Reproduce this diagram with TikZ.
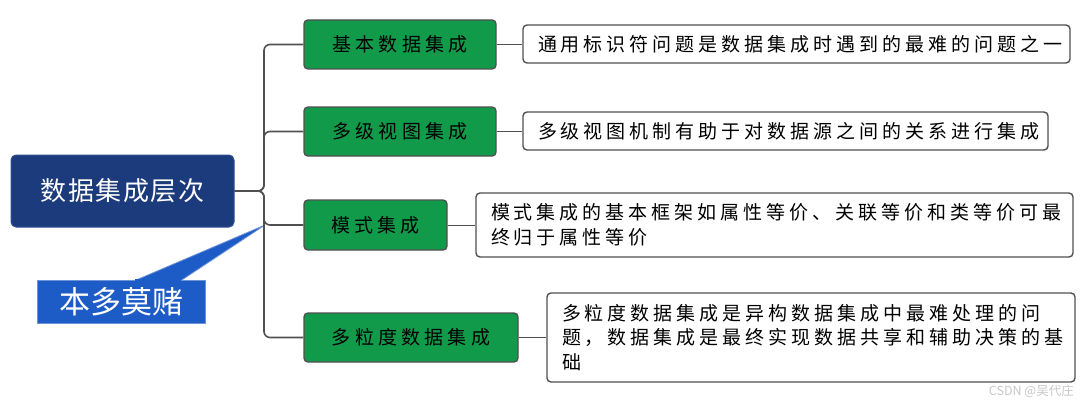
\documentclass[tikz,border=0pt]{standalone}
\usepackage{fontspec}
\newfontfamily\cjk{Noto Sans CJK SC}
\newfontfamily\cjkg[LetterSpace=22]{Noto Sans CJK SC}
\newfontfamily\cjkw[LetterSpace=21]{Noto Sans CJK SC}
\newfontfamily\cjkr[LetterSpace=6]{Noto Sans CJK SC}
\definecolor{rootblue}{HTML}{1C3B7C}
\definecolor{rootedge}{HTML}{2E4F93}
\definecolor{callblue}{HTML}{1D5BC6}
\definecolor{calledge}{HTML}{6D94D6}
\definecolor{leafgreen}{HTML}{119A4A}
\definecolor{edgegray}{HTML}{505050}
\tikzset{
  rootbox/.style={draw=rootedge, line width=1pt, fill=rootblue, rounded corners=5pt,
    text=white, font=\cjkr\fontsize{26}{30}\selectfont, inner sep=0pt},
  callbox/.style={draw=calledge, line width=1pt, fill=callblue,
    text=white, font=\cjk\fontsize{31}{34}\selectfont, inner sep=0pt},
  greenbox/.style={draw=edgegray, line width=1.4pt, fill=leafgreen, rounded corners=4pt,
    text=black, font=\cjkg\fontsize{19}{22}\selectfont, inner sep=0pt, minimum height=49pt},
  whitebox/.style={draw=edgegray, line width=1.4pt, fill=white, rounded corners=4pt,
    text=black, font=\cjkw\fontsize{19}{24.5}\selectfont, inner xsep=15pt, inner ysep=0pt,
    align=left, anchor=center},
  trunk/.style={draw=edgegray, line width=1.6pt, rounded corners=6pt},
  twig/.style={draw=edgegray, line width=1pt},
}
\begin{document}
\begin{tikzpicture}[x=1pt,y=-1pt]
\useasboundingbox (0,0) rectangle (1082,404);
% root and callout
\node[rootbox, minimum width=223pt, minimum height=72pt] (root) at (122.5,191) {数据集成层次};
\node[callbox, minimum width=168pt, minimum height=43pt] (call) at (121,301.5) {本多莫赌};
\coordinate (tip) at (265,225);
\coordinate (bl) at (135,280.5);
\coordinate (br) at (181,280.5);
\fill[callblue] (bl) -- (tip) -- (br) -- cycle;
\draw[calledge, line width=0.8pt] (bl) -- (tip) -- (br);
\fill[callblue] ([yshift=-0.3pt]bl) rectangle ([yshift=2pt]br);
% green nodes
\node[greenbox, minimum width=192pt] (g1) at (400,44.5) {基本数据集成};
\node[greenbox, minimum width=192pt] (g2) at (400,131.5) {多级视图集成};
\node[greenbox, minimum width=143pt, minimum height=50pt] (g3) at (375.5,225) {模式集成};
\node[greenbox, minimum width=214pt] (g4) at (411,337.5) {多粒度数据集成};
% white nodes
\node[whitebox, text width=517pt, minimum height=38pt] (w1) at (796.5,44) {通用标识符问题是数据集成时遇到的最难的问题之一};
\node[whitebox, text width=495pt, minimum height=38pt] (w2) at (785.5,131) {多级视图机制有助于对数据源之间的关系进行集成};
\node[whitebox, text width=567pt, minimum height=64pt] (w3) at (774.5,225) {模式集成的基本框架如属性等价、关联等价和类等价可最\\终归于属性等价};
\node[whitebox, text width=498pt, minimum height=89pt] (w4) at (811,337.5) {多粒度数据集成是异构数据集成中最难处理的问\\题，数据集成是最终实现数据共享和辅助决策的基\\础};
% connectors
\coordinate (J) at (264,191);
\draw[trunk] (root.east) -- (J) |- (g1.west);
\draw[trunk] (root.east) -- (J) |- (g2.west);
\draw[trunk] (root.east) -- (J) |- (g3.west);
\draw[trunk] (root.east) -- (J) |- (g4.west);
\draw[twig] (g1.east) -- (g1.east -| w1.west);
\draw[twig] (g2.east) -- (g2.east -| w2.west);
\draw[twig] (g3.east) -- (g3.east -| w3.west);
\draw[twig] (g4.east) -- (g4.east -| w4.west);
% watermark
\node[text=black!22, font=\cjk\fontsize{12.5}{14}\selectfont, anchor=east, inner sep=0pt] (wm) at (1074,391) {CSDN @吴代庄};
\end{tikzpicture}
\end{document}
